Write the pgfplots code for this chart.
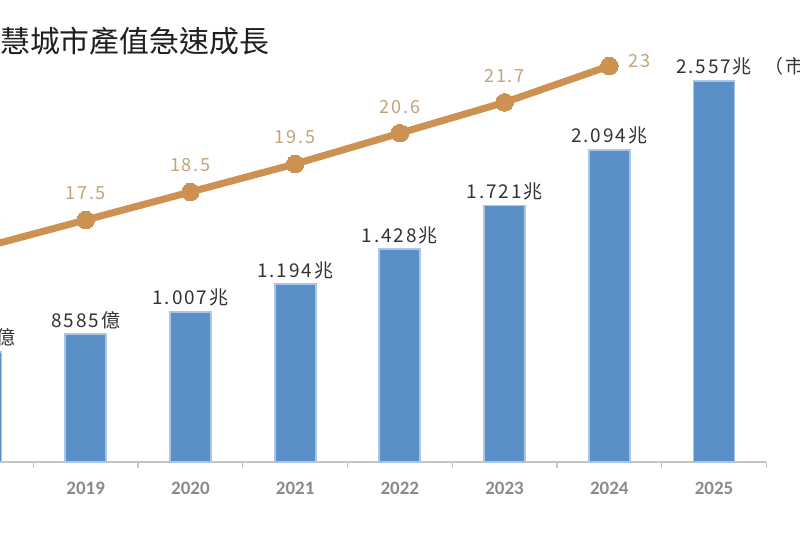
\documentclass[border=0pt]{standalone}
\usepackage{fontspec}
\usepackage{pgfplots}
\pgfplotsset{compat=1.18}
\setmainfont{Noto Sans CJK TC}
\newfontfamily\lblfont{Noto Sans CJK TC}[LetterSpace=10]
\newfontfamily\yearfont{Carlito}

\definecolor{barblue}{HTML}{5B8FC7}
\definecolor{baredge}{HTML}{A9C6E6}
\definecolor{linetan}{HTML}{CD9152}
\definecolor{labtan}{HTML}{C4A27A}
\definecolor{axgray}{HTML}{C4C4C4}
\definecolor{yeargray}{HTML}{8A8A8A}

% 1 px of the reference = 0.02cm
\pgfplotstableread{
x y label
0 0.739 7390億
1 0.8585 8585億
2 1.007 1.007兆
3 1.194 1.194兆
4 1.428 1.428兆
5 1.721 1.721兆
6 2.094 2.094兆
7 2.557 2.557兆
}\bardata

\begin{document}
\begin{tikzpicture}
\path[use as bounding box, clip] (0,0) rectangle (16cm,10.66cm);

\begin{axis}[
    at={(-1.428cm,1.42cm)}, anchor=south west,
    scale only axis, width=16.756cm, height=9.24cm,
    clip=false,
    xmin=-0.5, xmax=7.5, ymin=0, ymax=3.1,
    axis x line*=bottom, axis y line=none,
    axis line style={axgray, line width=0.8pt},
    xtick={0,...,7},
    xticklabels={2018,2019,2020,2021,2022,2023,2024,2025},
    major tick length=0pt,
    minor xtick={-0.5,0.5,...,7.5},
    minor tick length=0.12cm,
    tick align=outside,
    minor tick style={axgray, line width=0.8pt},
    xticklabel style={font=\yearfont\bfseries\fontsize{10.8}{12}\selectfont,
        text=yeargray, yshift=-0.28cm},
    ybar, bar width=0.82cm,
    point meta=explicit symbolic,
    nodes near coords,
    nodes near coords style={font=\lblfont\fontsize{10.8}{12}\selectfont,
        text=black!80, anchor=base, inner sep=0pt, yshift=0.14cm},
]
\addplot[fill=barblue, draw=baredge, line width=1pt]
    table[x=x, y=y, meta=label] {\bardata};
\node[font=\lblfont\fontsize{10.8}{12}\selectfont, text=black!80,
    anchor=base west, inner sep=0pt]
    at (axis cs:7.48,2.557) [yshift=0.14cm] {（市場規模）};
\end{axis}

\begin{axis}[
    at={(-1.428cm,1.42cm)}, anchor=south west,
    scale only axis, width=16.756cm, height=9.24cm,
    clip=false,
    xmin=-0.5, xmax=7.5, ymin=8.857, ymax=25.357,
    hide axis,
    point meta=explicit symbolic,
    nodes near coords,
    nodes near coords style={font=\lblfont\fontsize{10.3}{12}\selectfont,
        text=labtan, anchor=base, inner sep=0pt, yshift=0.4cm},
]
\addplot[linetan, line width=4pt, mark=*, mark size=5pt,
    mark options={fill=linetan, draw=linetan, line width=0pt}]
    coordinates {(0,16.5) [16.5] (1,17.5) [17.5] (2,18.5) [18.5]
        (3,19.5) [19.5] (4,20.6) [20.6] (5,21.7) [21.7] (6,23) [{}]};
\node[font=\lblfont\fontsize{10.3}{12}\selectfont, text=labtan,
    anchor=west, inner sep=0pt] at (axis cs:6,23) [xshift=0.38cm, yshift=0.1cm] {23};
\end{axis}

\node[anchor=base west, inner sep=0pt, text=black!88,
    font=\fontsize{17}{20}\selectfont] at (-0.6cm,9.6cm) {智慧城市產值急速成長};
\end{tikzpicture}
\end{document}
